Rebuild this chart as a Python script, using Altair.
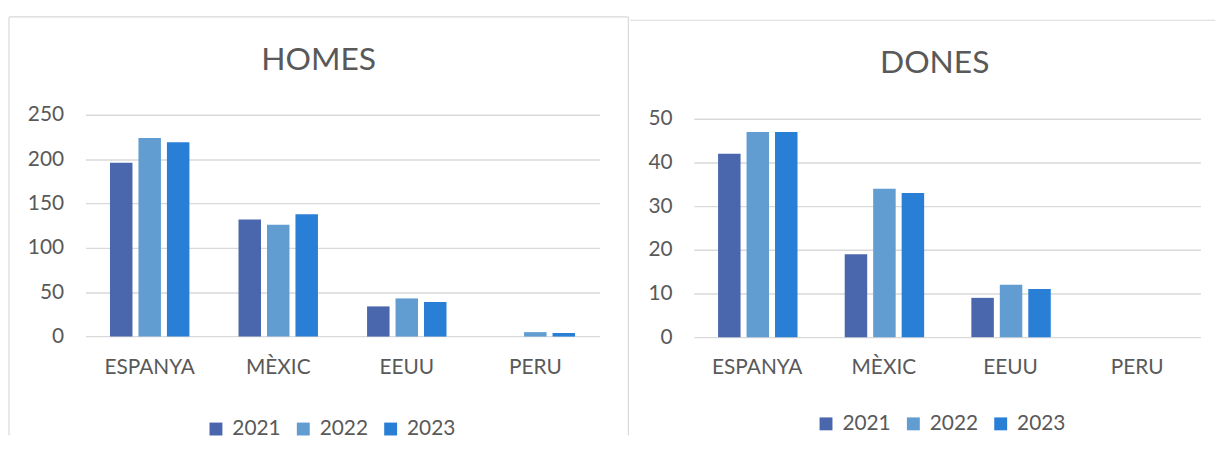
import altair as alt
import pandas as pd

countries = ["ESPANYA", "MÈXIC", "EEUU", "PERU"]
years = ["2021", "2022", "2023"]
homes_2021 = [196, 132, 34, 0]
homes_2022 = [224, 126, 43, 5]
homes_2023 = [219, 138, 39, 4]
dones_2021 = [42, 19, 9, 0]
dones_2022 = [47, 34, 12, 0]
dones_2023 = [47, 33, 11, 0]
homes_ticks = [0, 50, 100, 150, 200, 250]
dones_ticks = [0, 10, 20, 30, 40, 50]
colors = ["#4A66AC", "#629DD1", "#297FD5"]

FONT = "Lato"
TXT = "#595959"
GRID = "#D9D9D9"


def make_df(s21, s22, s23):
    rows = []
    for y, s in zip(years, [s21, s22, s23]):
        for c, v in zip(countries, s):
            rows.append({"country": c, "year": y, "value": v})
    return pd.DataFrame(rows)


def rule(x, x2=None, y=None, y2=None, color=GRID):
    enc = {"x": alt.value(x), "y": alt.value(y)}
    if x2 is not None:
        enc["x2"] = alt.value(x2)
    if y2 is not None:
        enc["y2"] = alt.value(y2)
    return alt.Chart(alt.Data(values=[{"k": 0}])).mark_rule(
        color=color, strokeWidth=1.2
    ).encode(**enc)


def panel(df, title, ticks, ydomain, w, h, legend_x, legend_y, title_dx, title_dy, rules):
    bars = alt.Chart(df).mark_bar().encode(
        x=alt.X(
            "country:N", sort=countries, title=None,
            scale=alt.Scale(paddingInner=0.382, paddingOuter=0.191),
            axis=alt.Axis(labelAngle=0, labelFontSize=21, labelColor=TXT, labelFont=FONT,
                          labelPadding=20, ticks=False, domain=False, grid=False),
        ),
        xOffset=alt.XOffset("year:N", sort=years,
                            scale=alt.Scale(paddingInner=0.21, paddingOuter=0)),
        y=alt.Y(
            "value:Q", title=None,
            scale=alt.Scale(domain=ydomain, nice=False, zero=True),
            axis=alt.Axis(values=ticks, labelFontSize=21, labelColor=TXT, labelFont=FONT,
                          labelPadding=22, ticks=False, domain=False, grid=True,
                          gridColor=GRID, gridWidth=1.4),
        ),
        color=alt.Color(
            "year:N", sort=years,
            scale=alt.Scale(domain=years, range=colors),
            legend=alt.Legend(
                title=None, orient="none", legendX=legend_x, legendY=legend_y,
                direction="horizontal", symbolType="square", symbolSize=169,
                symbolStrokeWidth=0, labelFontSize=21, labelColor=TXT, labelFont=FONT,
                labelOffset=6, columnPadding=12, padding=0,
            ),
        ),
    )
    return alt.layer(bars, *rules).properties(
        width=w, height=h,
        title=alt.TitleParams(
            text=title, fontSize=32, font=FONT, color=TXT, fontWeight="normal",
            anchor="middle", frame="bounds", offset=0, baseline="alphabetic",
            dx=title_dx, dy=title_dy,
        ),
    )


left = panel(
    make_df(homes_2021, homes_2022, homes_2023), "HOMES", homes_ticks, [0, 250],
    518, 223.4, 121, 305.8, 0, 86,
    [rule(-77, 547, -98.6), rule(-77, None, -98.6, 322.8), rule(547, None, -98.6, 322.8)],
)
right = panel(
    make_df(dones_2021, dones_2022, dones_2023), "DONES", dones_ticks, [0, 50.909],
    510.3, 224, 122.6, 300.6, 12, 86.2,
    [rule(-64, 525.3, -95.3)],
)

chart = alt.hconcat(left, right, spacing=0).resolve_scale(
    color="independent"
).resolve_legend(color="independent").properties(
    padding={"left": 0, "top": 6, "right": 0, "bottom": 0}
).configure(font=FONT, background="white").configure_view(strokeWidth=0, stroke="transparent")

chart.save("out.html", embed_options={"renderer": "svg", "actions": False})
